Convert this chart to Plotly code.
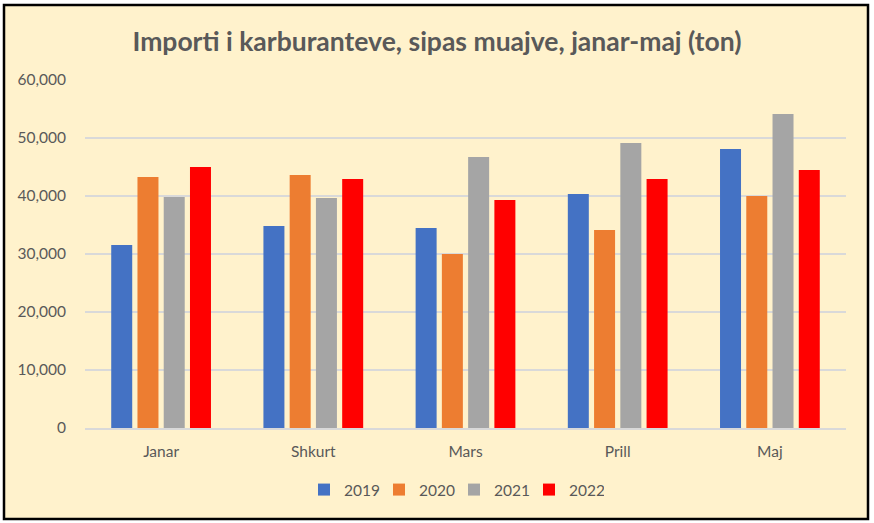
import plotly.graph_objects as go

months = ["Janar", "Shkurt", "Mars", "Prill", "Maj"]
years = ["2019", "2020", "2021", "2022"]
v2019 = [31550, 34830, 34480, 40350, 48100]
v2020 = [43280, 43620, 30000, 34140, 40000]
v2021 = [39830, 39650, 46720, 49140, 54140]
v2022 = [45000, 42930, 39310, 42930, 44480]
series = [v2019, v2020, v2021, v2022]
colors = ["#4472C4", "#ED7D31", "#A5A5A5", "#FF0000"]

W, H = 874, 523
L, R, T, B = 85, 28, 80, 95
pw, ph = W - L - R, H - T - B

def px(x):
    return (x - L) / pw

def py(y):
    return (H - B - y) / ph

fig = go.Figure()
for name, vals, c in zip(years, series, colors):
    fig.add_trace(go.Bar(name=name, x=months, y=vals, marker_color=c,
                         marker_line_width=0))

fig.add_shape(type="rect", xref="paper", yref="paper",
              x0=px(4), x1=px(868), y0=py(519), y1=py(5),
              fillcolor="#FFF2CC", line=dict(color="black", width=2.5),
              layer="below")

fig.update_layout(
    width=W, height=H,
    margin=dict(l=L, r=R, t=T, b=B),
    paper_bgcolor="white",
    plot_bgcolor="rgba(0,0,0,0)",
    barmode="group",
    bargap=0.31,
    bargroupgap=0.2,
    title=dict(text="<b>Importi i karburanteve, sipas muajve, janar-maj (ton)</b>",
               x=0.5, xanchor="center", y=1 - 42 / H, yanchor="middle",
               font=dict(family="Lato", size=26.5, color="#595959")),
    font=dict(family="Lato", size=15.5, color="#595959"),
    yaxis=dict(range=[0, 60000], dtick=10000, tickformat=",",
               showgrid=True, gridcolor="#D9D9D9", gridwidth=2,
               zeroline=False, showline=False, ticks="",
               ticklabelstandoff=18),
    xaxis=dict(showline=True, linecolor="#D9D9D9", linewidth=2,
               ticks="", ticklabelstandoff=8),
    legend=dict(orientation="h", x=px(454), xanchor="center",
                y=py(490), yanchor="middle",
                bgcolor="rgba(0,0,0,0)",
                font=dict(size=15.5, color="#595959"),
                itemwidth=30, tracegroupgap=0,
                entrywidth=30, entrywidthmode="pixels"),
)

fig.write_html("out.html",
               config={"displayModeBar": False},
               post_script="document.body.style.margin='0';document.body.style.overflow='hidden';")
